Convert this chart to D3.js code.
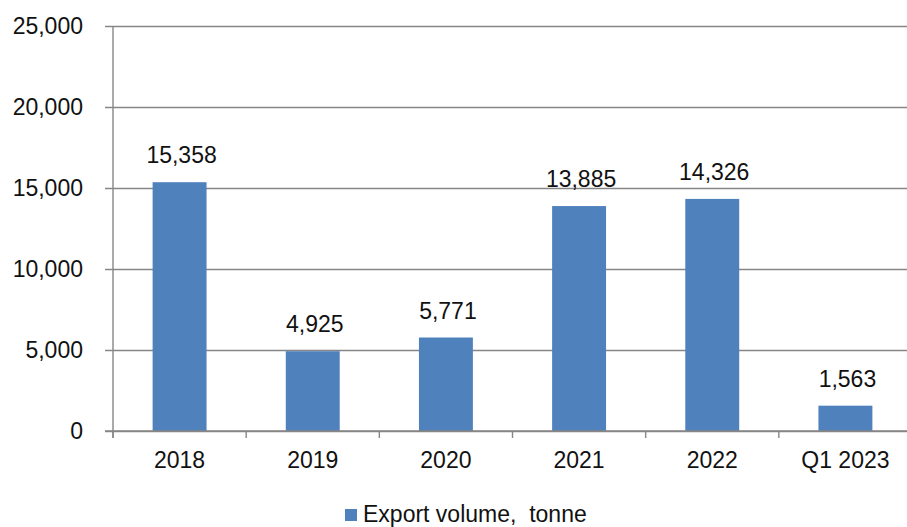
<!DOCTYPE html>
<html>
<head>
<meta charset="utf-8">
<script src="https://cdn.jsdelivr.net/npm/d3@7"></script>
<style>
  html, body { margin: 0; padding: 0; background: #fff; }
  svg { display: block; font-family: "Liberation Sans", Arial, sans-serif; }
</style>
</head>
<body>
<svg id="chart" width="907" height="527"></svg>
<script>
// Export volume by period
const categories = ["2018", "2019", "2020", "2021", "2022", "Q1 2023"];
const exportVolume = [15358, 4925, 5771, 13885, 14326, 1563];
const yTicks = [0, 5000, 10000, 15000, 20000, 25000];
const seriesName = "Export volume,  tonne";

const svg = d3.select("#chart");
const W = 907, H = 527;
const plotLeft = 113, plotRight = 912, plotTop = 26, plotBottom = 431;

const x = d3.scaleBand().domain(categories).range([plotLeft, plotRight]).paddingInner(0).paddingOuter(0);
const y = d3.scaleLinear().domain([0, 25000]).range([plotBottom, plotTop]);
const fmt = d3.format(",");

const grey = "#868686";
const blue = "#4F81BD";
const fontSize = 23;

// horizontal gridlines with outer ticks
const yAxis = d3.axisLeft(y).tickValues(yTicks).tickFormat(fmt).tickSize(-(W - plotLeft + 10)).tickPadding(22);
const gy = svg.append("g").attr("transform", `translate(${plotLeft},0)`).call(yAxis);
gy.select(".domain").remove();
gy.selectAll(".tick line").attr("x1", -8).attr("stroke", grey).attr("stroke-width", 1.4);
gy.selectAll(".tick text")
  .attr("x", -30)
  .attr("font-size", fontSize)
  .attr("font-family", "Liberation Sans, Arial, sans-serif")
  .attr("fill", "#111");

// vertical axis line
svg.append("line")
  .attr("x1", plotLeft).attr("x2", plotLeft)
  .attr("y1", y(25000)).attr("y2", plotBottom + 7)
  .attr("stroke", grey).attr("stroke-width", 1.4);

// bars
const barW = x.bandwidth() * 0.405;
svg.append("g").selectAll("rect")
  .data(exportVolume)
  .join("rect")
  .attr("x", (d, i) => x(categories[i]) + (x.bandwidth() - barW) / 2)
  .attr("y", d => y(d))
  .attr("width", barW)
  .attr("height", d => y(0) - y(d))
  .attr("fill", blue);

// category axis
const gx = svg.append("g").attr("transform", `translate(0,${plotBottom})`);
gx.append("line").attr("x1", plotLeft - 8).attr("x2", W).attr("y1", 0).attr("y2", 0)
  .attr("stroke", grey).attr("stroke-width", 1.4);
gx.selectAll("line.tick")
  .data(categories)
  .join("line")
  .attr("class", "tick")
  .attr("x1", d => x(d)).attr("x2", d => x(d))
  .attr("y1", 0).attr("y2", 7)
  .attr("stroke", grey).attr("stroke-width", 1.4);
gx.selectAll("text")
  .data(categories)
  .join("text")
  .attr("x", d => x(d) + x.bandwidth() / 2)
  .attr("y", 37)
  .attr("text-anchor", "middle")
  .attr("font-size", fontSize)
  .attr("fill", "#111")
  .text(d => d);

// value labels
svg.append("g").selectAll("text")
  .data(exportVolume)
  .join("text")
  .attr("x", (d, i) => x(categories[i]) + x.bandwidth() / 2 + 2)
  .attr("y", d => y(d) - 19)
  .attr("text-anchor", "middle")
  .attr("font-size", fontSize)
  .attr("fill", "#111")
  .text(d => fmt(d));

// legend
const lg = svg.append("g").attr("transform", "translate(345,509)");
lg.append("rect").attr("width", 12).attr("height", 12).attr("fill", blue);
lg.append("text")
  .attr("x", 18).attr("y", 12.5)
  .attr("font-size", fontSize)
  .attr("fill", "#111")
  .style("white-space", "pre")
  .text(seriesName);
</script>
</body>
</html>
